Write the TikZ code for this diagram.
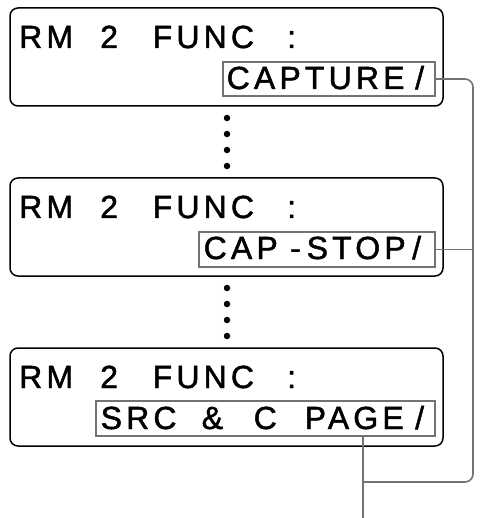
\documentclass[tikz,border=0pt]{standalone}
\usepackage{fontspec}
\setmainfont{Liberation Sans}[LetterSpace=13,FakeBold=1.5]
\begin{document}
\begin{tikzpicture}[x=1pt,y=-1pt,
  panel/.style={draw=black,line width=1.5pt,rounded corners=8pt},
  hbox/.style={draw=black!55,line width=1.6pt},
  txt/.style={anchor=base west,inner sep=0pt,font=\fontsize{32}{32}\selectfont},
  conn/.style={draw=black!55,line width=1.6pt,rounded corners=8pt},
  dot/.style={circle,fill=black,inner sep=0pt,minimum size=6.5pt}]
\useasboundingbox (0,0) rectangle (479,518);
% panels
\draw[panel] (10,8) rectangle (443,106);
\draw[panel] (10,178) rectangle (443,276);
\draw[panel] (10,348) rectangle (443,446);
% highlight boxes
\node[hbox,inner sep=0pt,minimum width=212pt,minimum height=34pt] (h1) at (329,79) {};
\node[hbox,inner sep=0pt,minimum width=236pt,minimum height=35pt] (h2) at (317,249.5) {};
\node[hbox,inner sep=0pt,minimum width=339pt,minimum height=35pt] (h3) at (265.5,418.5) {};
% line 1 texts
\foreach \y/\n in {48/a,218/b,388/c}{
  \node[txt] (rm\n) at (19,\y) {RM};
  \node[txt] (two\n) at (100,\y) {2};
  \node[txt] (func\n) at (152.5,\y) {FUNC};
  \node[txt] (col\n) at (287,\y) {:};
}
% box 1 line 2
\node[txt] (t1a) at (226.5,89) {CAPTURE};
\node[txt] (t1b) at (415,89) {/};
% box 2 line 2
\node[txt] (t2a) at (203.5,259) {CAP};
\node[txt] (t2b) at (290,259) {-};
\node[txt] (t2c) at (306.5,259) {STOP};
\node[txt] (t2d) at (412,259) {/};
% box 3 line 2
\node[txt] (t3a) at (100.5,429) {SRC};
\node[txt] (t3b) at (201.5,429) {\&};
\node[txt] (t3c) at (253.5,429) {C};
\node[txt] (t3d) at (304.5,429) {PAGE};
\node[txt] (t3e) at (415,429) {/};
% dots
\foreach \y [count=\i] in {118,134,150,166}{\node[dot] (da\i) at (227,\y) {};}
\foreach \y [count=\i] in {288,304,320,336}{\node[dot] (db\i) at (227,\y) {};}
% connectors
\coordinate (cr) at (473,79);
\coordinate (cb) at (473,482);
\coordinate (cj) at (363,482);
\coordinate (cend) at (363,518);
\draw[conn] (h1.east) -- (cr) -- (cb) -- (cj);
\draw[conn] (h2.east) -- (h2.east -| cr);
\draw[conn] (h3.south -| cj) -- (cend);
\end{tikzpicture}
\end{document}
